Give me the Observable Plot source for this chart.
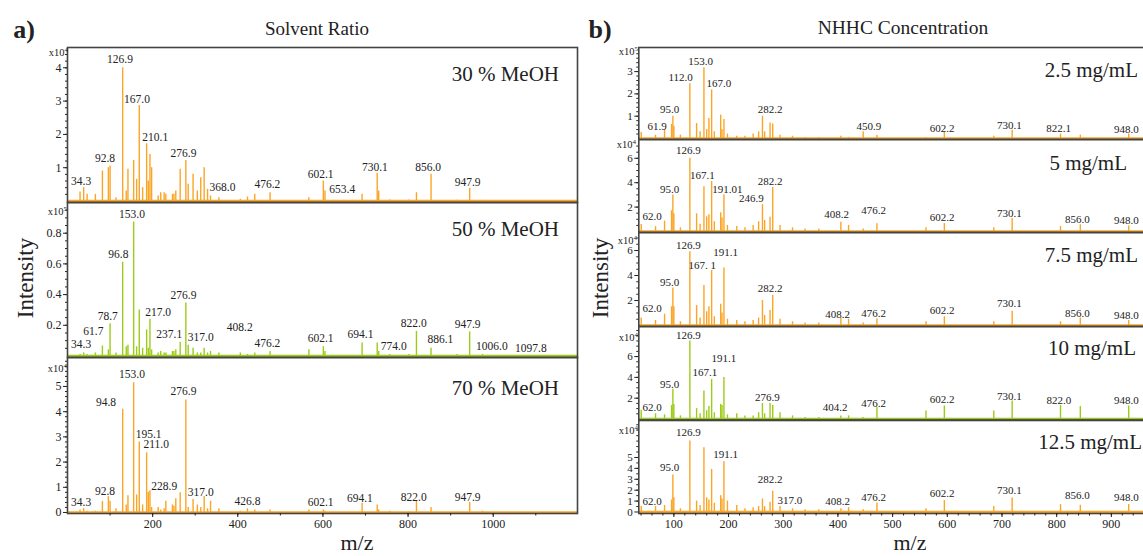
<!DOCTYPE html>
<html><head><meta charset="utf-8">
<script src="https://cdn.jsdelivr.net/npm/d3@7"></script>
<script src="https://cdn.jsdelivr.net/npm/@observablehq/plot@0.6"></script>
<style>
body{margin:0;background:#fff;}
#fig{position:relative;width:1143px;height:556px;overflow:hidden;background:#fff;font-family:"Liberation Serif","DejaVu Serif",serif;color:#222;}
#fig div{position:absolute;white-space:nowrap;line-height:1;}
</style></head>
<body><div id="fig"></div>
<script>
// ---------- (a) Solvent ratio: peak positions (m/z) and intensities ----------
const mzA = [29.5,38,46,65.5,82,96,100,113.8,129.6,138,142,155.4,162.4,168.6,176.5,185.9,189.8,193.7,197.6,213,219,227,231,246.5,250,254.4,264.7,278,283.5,295,305,313,321,329,336,355.6,406,422.7,439.9,475.8,567,601,604.8,692,727.5,731,757,802,819.7,854,915,944.7,975];
const meoh30 = [0.27,0.4,0.2,0.2,0.9,1.0,1.05,0.1,4.0,0.3,0.95,1.22,0.65,2.87,0.4,1.72,0.6,1.4,1.0,0.15,0.25,0.25,0.2,0.2,0.2,0.3,0.95,1.22,0.5,0.8,0.3,0.7,1.0,0.35,0.15,0.1,0.05,0.12,0.2,0.25,0.1,0.6,0.3,0.2,0.83,0.3,0.03,0.03,0.25,0.8,0.02,0.38,0.02];
const meoh50 = [0.01,0.02,0.01,0.02,0.065,0.04,0.21,0.02,0.61,0.06,0.07,0.873,0.06,0.3,0.05,0.17,0.05,0.24,0.04,0.02,0.03,0.02,0.02,0.03,0.03,0.04,0.09,0.345,0.07,0.05,0.02,0.02,0.05,0.02,0.03,0.02,0.02,0.01,0.02,0.03,0.04,0.06,0.03,0.085,0.085,0.03,0.01,0.01,0.16,0.05,0.01,0.157,0.01];
const meoh70 = [0.1,0.15,0.05,0.05,0.44,0.63,0.45,0.15,4.1,0.3,0.66,5.15,0.7,2.8,0.3,2.37,0.8,0.86,0.2,0.2,0.1,0.15,0.45,0.3,0.25,0.55,0.78,4.46,0.2,0.52,0.3,0.2,0.63,0.15,0.45,0.15,0.05,0.15,0.1,0.1,0.1,0.1,0.05,0.37,0.3,0.1,0.05,0.02,0.44,0.2,0.01,0.4,0.05];
const labA30 = [["34.3",31.9,0.6],["92.8",88.2,1.27],["126.9",123.3,4.25],["167.0",163.2,3.06],["210.1",206,1.92],["276.9",272.6,1.42],["368.0",364,0.42],["476.2",469.6,0.5],["602.1",594.6,0.8],["653.4",645.5,0.34],["730.1",722,1.02],["856.0",847,1.0],["947.9",940,0.57]];
const labA50 = [["34.3",31.9,0.074],["61.7",60.7,0.16],["78.7",94.5,0.26],["96.8",119.4,0.66],["153.0",151.5,0.923],["217.0",213,0.287],["237.1",239,0.14],["276.9",272.6,0.395],["317.0",313,0.124],["408.2",404.7,0.19],["476.2",469.6,0.08],["602.1",594.6,0.113],["694.1",688.4,0.14],["774.0",766.5,0.065],["822.0",813.4,0.215],["886.1",876,0.107],["947.9",940,0.206],["1006.0",997,0.063],["1097.8",1088.6,0.052]];
const labA70 = [["34.3",31.9,0.39],["92.8",88.2,0.85],["94.8",90.5,4.39],["153.0",151.5,5.49],["195.1",190.6,3.09],["211.0",208.5,2.69],["228.9",227.2,1.05],["276.9",272.6,4.79],["317.0",313,0.81],["426.8",422.7,0.46],["602.1",594.6,0.42],["694.1",686.8,0.55],["822.0",813.4,0.62],["947.9",940,0.59]];

// ---------- (b) NHHC concentration ----------
const mzB = [40.3,66.5,83,95.8,98.2,100,112,129.3,141.6,148,155,160,164.1,169.1,174,185.6,188,191.6,198,215,230,245,255,262,266,275.9,280.8,294.2,317,340,365,405.4,419.5,446.2,471.3,561,594.6,685,718.6,807,843.2,931.7];
const c25  = [0.27,0.15,0.37,0.63,1.0,0.55,0.15,2.45,0.67,0.3,3.17,0.4,0.9,2.18,0.3,1.05,0.4,0.85,0.2,0.1,0.1,0.2,0.3,1.0,0.3,0.7,0.65,0.15,0.1,0.05,0.05,0.1,0.05,0.3,0.15,0.05,0.27,0.1,0.37,0.2,0.15,0.2];
const c5   = [0.57,0.4,0.85,1.7,3.0,1.45,0.3,6.0,1.45,0.6,3.66,1.2,1.37,4.1,0.8,1.53,1.1,3.0,0.5,0.4,0.3,0.5,0.8,2.2,0.9,1.17,3.6,0.5,0.3,0.2,0.2,0.76,0.5,0.2,0.63,0.3,0.65,0.3,1.07,0.4,0.55,0.45];
const c75  = [0.6,0.4,0.9,1.5,3.0,1.5,0.3,5.9,1.6,0.6,3.2,1.1,1.5,4.4,0.7,1.7,1.0,4.6,0.5,0.4,0.3,0.4,0.6,2.0,0.8,1.2,2.4,0.5,0.3,0.2,0.2,0.6,0.5,0.2,0.55,0.3,0.7,0.3,1.15,0.3,0.6,0.4];
const c10  = [0.84,0.5,0.4,1.3,2.85,1.4,0.3,7.5,1.0,0.5,2.7,0.8,1.2,3.8,0.6,1.4,1.3,4.0,0.4,0.5,0.3,0.3,0.6,1.5,0.5,1.5,1.3,0.6,0.3,0.15,0.15,0.3,0.3,0.15,1.1,0.77,1.25,0.77,1.73,1.3,1.19,1.25];
const c125 = [0.5,0.5,0.6,1.1,3.4,1.3,0.3,6.5,1.0,0.6,5.9,1.3,1.1,3.9,0.8,1.5,1.2,4.6,1.0,0.6,0.3,0.4,0.5,1.2,0.5,0.9,1.9,0.5,0.3,0.2,0.2,0.3,0.4,0.2,0.83,0.3,1.05,0.5,1.28,0.68,0.62,0.68];
const labB25  = [["61.9",69.6,0.54],["95.0",92.1,1.29],["112.0",112.3,2.75],["153.0",148.9,3.47],["167.0",182.4,2.48],["282.2",275.9,1.31],["450.9",456.7,0.54],["602.2",590.4,0.46],["730.1",713.7,0.58],["822.1",803.4,0.43],["948.0",927.5,0.39]];
const labB5   = [["62.0",60.4,1.25],["95.0",92.1,3.44],["126.9",126.4,6.64],["167.1",152,4.59],["191.01",197.8,3.44],["246.9",241.8,2.73],["282.2",275.9,4.1],["408.2",397.5,1.39],["476.2",465.3,1.72],["602.2",590.4,1.17],["730.1",713.7,1.45],["856.0",837.7,0.98],["948.0",927.5,0.9]];
const labB75  = [["62.0",60.4,1.34],["95.0",92.1,3.46],["126.9",126.4,6.4],["167. 1",152,4.8],["191.1",194.7,5.82],["282.2",275.9,2.94],["408.2",399.3,0.88],["476.2",465.3,0.94],["602.2",590.4,1.2],["730.1",713.7,1.8],["856.0",837.7,0.98],["948.0",927.5,0.8]];
const labB10  = [["62.0",60.4,1.08],["95.0",92.1,3.29],["126.9",126.4,8.03],["167.1",156.8,4.5],["191.1",191.6,5.79],["276.9",271.1,2.04],["404.2",395,1.08],["476.2",465.3,1.46],["602.2",590.4,1.85],["730.1",713.7,2.16],["822.0",804.2,1.78],["948.0",927.5,1.78]];
const labB125 = [["62.0",60.4,1.0],["95.0",92.1,4.06],["126.9",126.4,7.28],["191.1",194.7,5.23],["282.2",275.9,3.0],["317.0",312,1.07],["408.2",399.3,1.0],["476.2",465.3,1.31],["602.2",590.4,1.68],["730.1",713.7,1.93],["856.0",837.7,1.47],["948.0",927.5,1.31]];

const xTicksA = [200,400,600,800,1000];
const xTicksB = [100,200,300,400,500,600,700,800,900];

const ORANGE = "#fba527", GREEN = "#9dcb1a";
const FONT = "Liberation Serif, DejaVu Serif, serif";
const fig = document.getElementById("fig");
const fmt = d => String(+(+d).toFixed(3));

function addText(txt, x, y, size, o = {}) {
  const d = document.createElement("div");
  d.textContent = txt;
  const tx = o.anchor === "end" ? "-100%" : (o.anchor === "start" ? "0" : "-50%");
  d.style.left = x + "px"; d.style.top = y + "px";
  d.style.fontSize = size + "px";
  d.style.transform = `translate(${tx},-50%)` + (o.rotate ? " rotate(-90deg)" : "");
  if (o.bold) d.style.fontWeight = "bold";
  fig.appendChild(d);
  return d;
}
function addExp(exp, x, y) {
  const d = document.createElement("div");
  d.innerHTML = `x10<sup style="font-size:7px;vertical-align:4px">${exp}</sup>`;
  d.style.left = x + "px"; d.style.top = y + "px";
  d.style.fontSize = "10.5px";
  d.style.transform = "translate(-100%,-50%)";
  fig.appendChild(d);
}

function panel(c) {
  const peaks = c.mz.map((m, i) => ({mz: m, v: c.vals[i]}));
  const mt = 3, mb = c.showX ? 36 : 3;
  const h = c.bottom - c.top;
  const marks = [
    Plot.ruleX(peaks, {x: "mz", y1: 0, y2: "v", stroke: c.color, strokeWidth: 1.4}),
    Plot.ruleY([0], {stroke: c.color, strokeWidth: 2.4}),
    Plot.text(c.labels, {x: d => d[1], y: d => d[2], text: d => d[0], fontSize: c.labelSize, fill: "#222", lineAnchor: "middle"}),
    Plot.axisY({ticks: c.yTicks, tickSize: 4, tickPadding: 2, fontSize: c.tickFont, tickFormat: fmt, label: null}),
    Plot.axisY({ticks: c.yMinor, tickSize: 2, tickFormat: () => "", label: null}),
    Plot.frame({stroke: "#444", strokeWidth: 1.6})
  ];
  if (c.showX) {
    marks.push(Plot.axisX({ticks: c.xTicks, tickSize: 4, tickPadding: 2, fontSize: 12, tickFormat: fmt, label: null}));
    marks.push(Plot.axisX({ticks: c.xMinor, tickSize: 2.5, tickFormat: () => "", label: null}));
  }
  const xOpt = {domain: c.xDomain};
  if (!c.showX) xOpt.axis = null;
  const svg = Plot.plot({
    width: c.svgW, height: h + mt + mb,
    marginTop: mt, marginBottom: mb, marginLeft: c.ml, marginRight: c.mr,
    x: xOpt, y: {domain: c.yDomain},
    style: {background: "transparent", fontFamily: FONT, color: "#222", overflow: "visible"},
    marks
  });
  svg.style.position = "absolute";
  svg.style.left = c.svgL + "px";
  svg.style.top = (c.top - mt) + "px";
  fig.appendChild(svg);
  addExp(c.exp, c.expX, c.expY);
  addText(c.title, c.titleX, c.titleY, 21, {anchor: "end"});
}

// ----- left column (a) -----
const A = {svgL: 0, svgW: 590, ml: 67, mr: 13, xDomain: [0, 1198], mz: mzA, labelSize: 11.5, tickFont: 12, xTicks: xTicksA, xMinor: d3.range(100, 1200, 100)};
panel({...A, top: 47, bottom: 202, vals: meoh30, color: ORANGE, labels: labA30, yDomain: [-0.045, 4.61], yTicks: [1,2,3,4], yMinor: d3.range(0.2, 4.6, 0.2), exp: "4", expX: 68, expY: 52.5, title: "30 % MeOH", titleX: 559, titleY: 73.5});
panel({...A, top: 202, bottom: 357, vals: meoh50, color: GREEN, labels: labA50, yDomain: [-0.0098, 1.0], yTicks: [0.2,0.4,0.6,0.8], yMinor: d3.range(0.05, 1.0, 0.05), exp: "5", expX: 67, expY: 212, title: "50 % MeOH", titleX: 559, titleY: 228.5});
panel({...A, top: 357, bottom: 513, vals: meoh70, color: ORANGE, labels: labA70, yDomain: [-0.04, 6.15], yTicks: [0,1,2,3,4,5], yMinor: d3.range(0.2, 6.1, 0.2), exp: "4", expX: 67, expY: 368.5, title: "70 % MeOH", titleX: 559, titleY: 387.5, showX: true});

// ----- right column (b) -----
const B = {svgL: 585, svgW: 560, ml: 53.3, mr: 0, xDomain: [35.9, 962.4], mz: mzB, labelSize: 11, tickFont: 11, xTicks: xTicksB, xMinor: d3.range(40, 961, 20)};
panel({...B, top: 47, bottom: 139, vals: c25, color: ORANGE, labels: labB25, yDomain: [-0.045, 4.08], yTicks: [1,2,3], yMinor: d3.range(0.2, 4.0, 0.2), exp: "5", expX: 638, expY: 52, title: "2.5 mg/mL", titleX: 1138, titleY: 70});
panel({...B, top: 139, bottom: 232, vals: c5, color: ORANGE, labels: labB5, yDomain: [-0.082, 7.54], yTicks: [2,4,6], yMinor: d3.range(0.5, 7.5, 0.5), exp: "4", expX: 636, expY: 145, title: "5 mg/mL", titleX: 1127, titleY: 162.5});
panel({...B, top: 232, bottom: 326, vals: c75, color: ORANGE, labels: labB75, yDomain: [-0.08, 7.44], yTicks: [2,4,6], yMinor: d3.range(0.5, 7.4, 0.5), exp: "4", expX: 637, expY: 240.5, title: "7.5 mg/mL", titleX: 1138, titleY: 254.5});
panel({...B, top: 326, bottom: 419.5, vals: c10, color: GREEN, labels: labB10, yDomain: [-0.096, 8.89], yTicks: [2,4,6], yMinor: d3.range(0.5, 8.8, 0.5), exp: "4", expX: 638, expY: 337.5, title: "10 mg/mL", titleX: 1136, titleY: 347.5});
panel({...B, top: 419.5, bottom: 512.5, vals: c125, color: ORANGE, labels: labB125, yDomain: [-0.138, 8.39], yTicks: [0,1,2,3,4,5], yMinor: d3.range(0.5, 8.3, 0.5), exp: "4", expX: 638, expY: 430.5, title: "12.5 mg/mL", titleX: 1142, titleY: 441.5, showX: true});

// ----- headings & axis titles -----
addText("a)", 24, 30, 26, {bold: true});
addText("b)", 600, 30, 26, {bold: true});
addText("Solvent Ratio", 317, 28, 19);
addText("NHHC Concentration", 903, 28, 19.5);
addText("Intensity", 25, 278, 23, {rotate: true});
addText("Intensity", 600, 278, 23, {rotate: true});
addText("m/z", 357, 543, 22);
addText("m/z", 910, 543, 22);
</script>
</body></html>
